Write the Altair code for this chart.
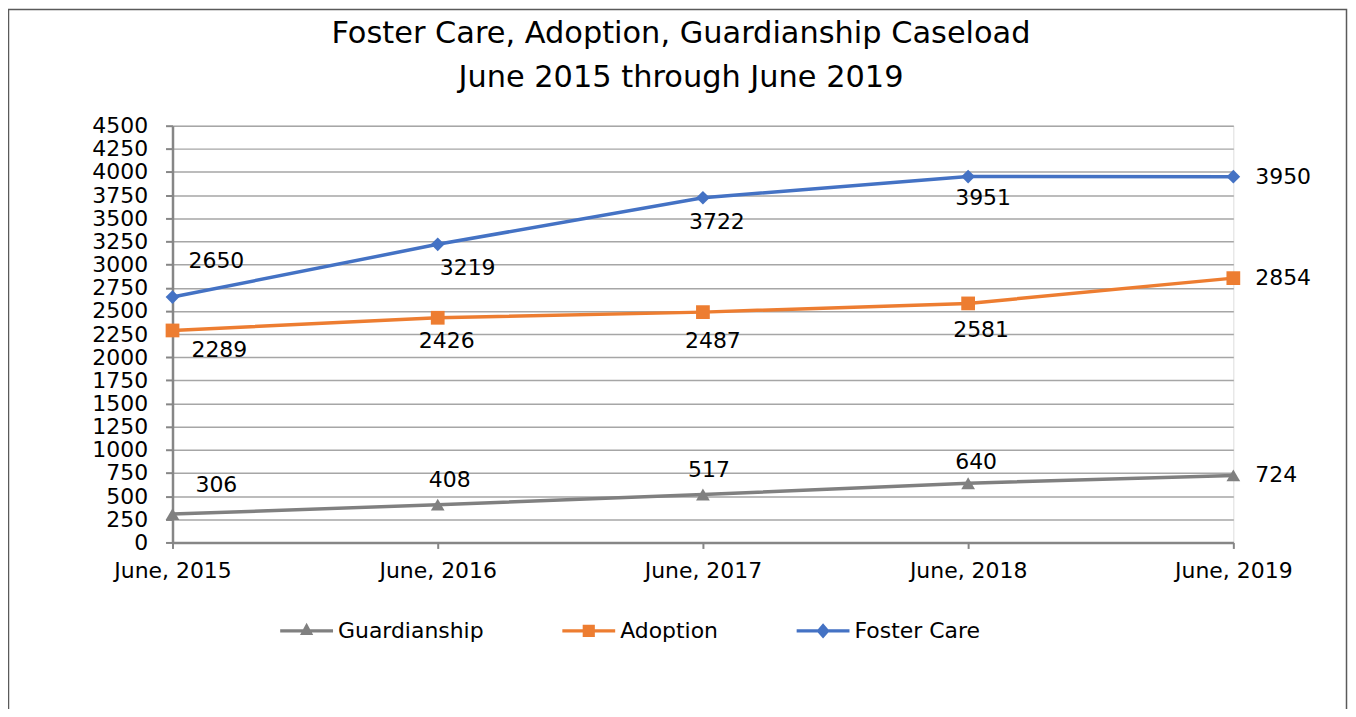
import altair as alt
import pandas as pd

dates = ["June, 2015", "June, 2016", "June, 2017", "June, 2018", "June, 2019"]
series_names = ["Guardianship", "Adoption", "Foster Care"]
guardianship = [306, 408, 517, 640, 724]
adoption = [2289, 2426, 2487, 2581, 2854]
foster_care = [2650, 3219, 3722, 3951, 3950]
y_ticks = list(range(0, 4501, 250))

values_by_series = {
    "Guardianship": guardianship,
    "Adoption": adoption,
    "Foster Care": foster_care,
}

rows = []
for s in series_names:
    for d, v in zip(dates, values_by_series[s]):
        rows.append({"date": d, "series": s, "value": v})
df = pd.DataFrame(rows)

colors = ["#808080", "#ED7D31", "#4472C4"]
shapes = ["triangle-up", "square", "diamond"]

FONT = "DejaVu Sans"

# legend symbol paths: line + marker (unit box scaled by sqrt(size)/2)
bar = "M-1,-0.06H1V0.06H-1Z"
p_g = bar + "M0,-0.31L0.25,0.15L-0.25,0.15Z"
p_a = bar + "M-0.23,-0.23H0.23V0.23H-0.23Z"
p_f = bar + "M0,-0.29L0.25,0L0,0.29L-0.25,0Z"
shape_expr = (
    f"datum.value === 'Guardianship' ? '{p_g}' : "
    f"datum.value === 'Adoption' ? '{p_a}' : '{p_f}'"
)
LEG_SIZE = 2809

x_enc = alt.X(
    "date:N",
    sort=dates,
    scale=alt.Scale(type="point", padding=0),
    axis=alt.Axis(
        title=None, labelAngle=0, grid=False, tickSize=6, labelPadding=12,
        labelFont=FONT, labelFontSize=22, labelColor="#000000",
        domainColor="#868686", domainWidth=2.5, tickColor="#868686", tickWidth=2,
    ),
)
y_enc = alt.Y(
    "value:Q",
    scale=alt.Scale(domain=[0, 4500], nice=False, zero=True),
    axis=alt.Axis(
        title=None, values=y_ticks, grid=True, gridColor="#a6a6a6", gridWidth=1.5,
        tickSize=7, labelPadding=18, labelFont=FONT, labelFontSize=22,
        labelColor="#000000", domainColor="#868686", domainWidth=2.5,
        tickColor="#868686", tickWidth=2, labelOverlap=False, format="d",
    ),
)

base = alt.Chart(df)

frame = alt.Chart(alt.Data(values=[{"k": 1}])).mark_rect(
    fill="transparent", stroke="#5a5a5a", strokeWidth=1.5
).encode(
    x=alt.value(-164.5), x2=alt.value(1177.5), y=alt.value(-116.5), y2=alt.value(720)
)

lines = base.mark_line(strokeWidth=3.5).encode(
    x=x_enc,
    y=y_enc,
    stroke=alt.Stroke("series:N", scale=alt.Scale(domain=series_names, range=colors), legend=None),
    detail="series:N",
)

points = base.mark_point(filled=True, size=190, opacity=1).encode(
    x=x_enc,
    y=y_enc,
    color=alt.Color(
        "series:N",
        scale=alt.Scale(domain=series_names, range=colors),
        legend=alt.Legend(
            title=None, orient="none", direction="horizontal", legendX=108, legendY=480,
            symbolSize=LEG_SIZE, symbolType={"expr": shape_expr},
            symbolStrokeWidth=0, symbolOpacity=1,
            labelFont=FONT, labelFontSize=22, labelColor="#000000",
            labelOffset=5, columnPadding=78, padding=0,
        ),
    ),
    shape=alt.Shape("series:N", scale=alt.Scale(domain=series_names, range=shapes), legend=None),
)

# label offsets (dx, dy) per series per date index; last point left-aligned to the right
offsets = {
    "Foster Care": [(44, -36), (30, 24), (14, 24), (15, 22)],
    "Adoption": [(47, 20), (9, 23), (10, 29), (13, 27)],
    "Guardianship": [(44, -29), (12, -25), (6, -25), (8, -21)],
}

label_layers = []
for s in series_names:
    for i, d in enumerate(dates):
        if i < len(dates) - 1:
            dx, dy = offsets[s][i]
            mk = base.mark_text(align="center", baseline="middle", dx=dx, dy=dy,
                                font=FONT, fontSize=22, color="#000000")
        else:
            mk = base.mark_text(align="left", baseline="middle", dx=22, dy=0,
                                font=FONT, fontSize=22, color="#000000")
        label_layers.append(
            mk.encode(x=x_enc, y=y_enc, text=alt.Text("value:Q", format="d"))
            .transform_filter((alt.datum.series == s) & (alt.datum.date == d))
        )

chart = alt.layer(frame, lines, points, *label_layers).properties(
    width=1064,
    height=418,
    autosize=alt.AutoSizeParams(type="none"),
    padding={"left": 165, "top": 117, "right": 115, "bottom": 166},
    title=alt.TitleParams(
        text=["Foster Care, Adoption, Guardianship Caseload", "June 2015 through June 2019"],
        font=FONT, fontSize=30.5, fontWeight="normal", lineHeight=44, color="#000000",
        anchor="middle", frame="group", dx=-22, offset=-85,
    ),
).resolve_scale(color="independent", stroke="independent").configure_view(
    stroke="#868686", strokeWidth=2
).configure(background="white")

chart.save("out.html", embed_options={"renderer": "svg", "actions": False})
